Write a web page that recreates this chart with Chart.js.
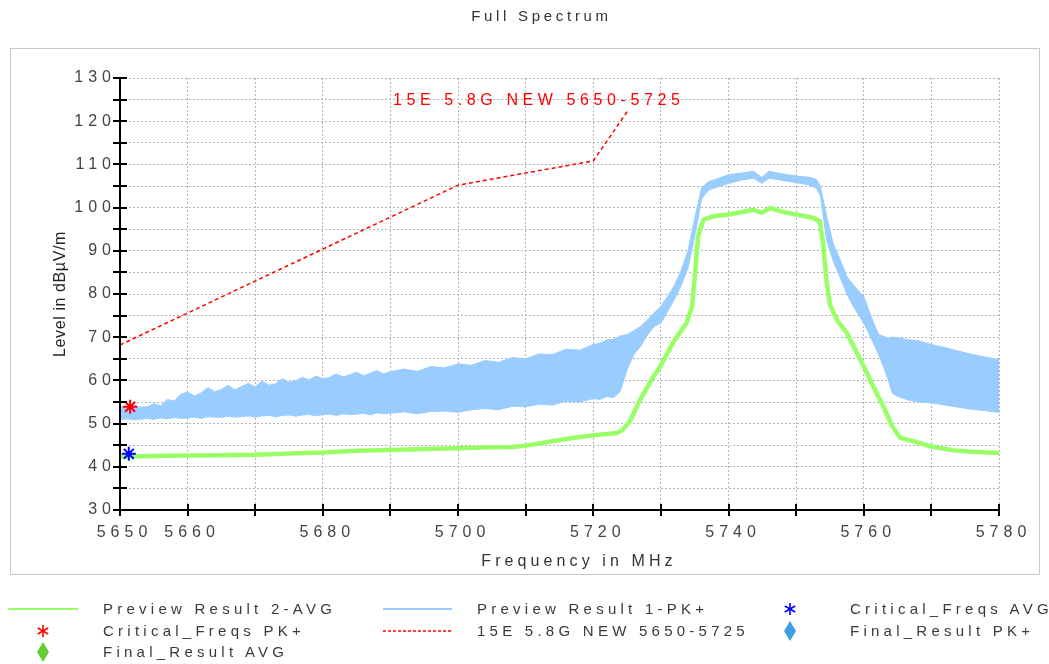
<!DOCTYPE html>
<html><head><meta charset="utf-8">
<script src="https://cdn.jsdelivr.net/npm/chart.js@4.4.1/dist/chart.umd.min.js"></script>
<style>
html,body{margin:0;padding:0;background:#fff;}
#wrap{position:relative;width:1049px;height:664px;overflow:hidden;background:#fff;}
#c{position:absolute;left:0;top:0;}
.lg{position:absolute;font-family:"Liberation Sans",Arial,sans-serif;font-size:15px;letter-spacing:4.25px;color:#3a3a3a;white-space:nowrap;line-height:18px;}
.sym{position:absolute;}
</style></head>
<body><div id="wrap"><canvas id="c" width="1049" height="664"></canvas></div>
<script>
// ---------- data ----------
const pkFreq = [5650,5651,5652,5653,5654,5655,5656,5657,5658,5659,5660,5661,5662,5663,5664,5665,5666,5667,5668,5669,5670,5671,5672,5673,5674,5675,5676,5677,5678,5679,5680,5681,5682,5683,5684,5685,5686,5687,5688,5689,5690,5692,5694,5696,5698,5700,5702,5704,5706,5708,5710,5712,5714,5716,5718,5720,5721,5722,5723,5724,5725,5726,5727,5728,5729,5730,5731,5732,5733,5734,5735,5735.5,5736,5737,5738,5740,5742,5743.7,5744.9,5746,5748,5750,5752,5753,5753.6,5754.5,5755.5,5756.5,5757.5,5758.5,5760,5761.4,5762.2,5762.9,5763.6,5764.2,5765,5766.5,5768,5770,5772,5774,5776,5778,5780];
const pkHigh = [54.0,53.7,54.2,53.8,53.9,54.6,54.1,55.6,55.2,56.8,57.3,56.4,57.1,58.3,57.4,57.9,58.9,57.8,58.6,59.3,58.5,59.8,58.9,59.2,60.4,59.6,59.9,60.7,60.1,61.0,60.4,60.7,61.5,60.8,61.3,61.9,61.1,61.6,62.3,61.5,62.0,62.6,62.1,63.2,62.9,63.8,63.5,64.6,64.2,65.3,65.0,66.1,66.0,67.2,67.0,68.3,68.6,69.4,69.5,70.3,70.6,71.5,72.5,74.0,75.6,77.1,79.5,82.0,85.5,90.0,97.5,101.0,104.5,106.0,106.5,107.6,108.0,108.4,107.0,108.4,107.8,107.3,107.0,106.5,104.9,98.0,91.5,88.0,84.0,82.0,79.4,73.5,70.6,70.2,69.8,70.0,69.9,69.4,69.2,68.3,67.6,66.8,66.0,65.4,64.8];
const pkLow  = [50.9,51.1,50.9,51.0,51.2,51.0,51.3,51.1,51.4,51.2,51.3,51.5,51.2,51.6,51.5,51.4,51.7,51.5,51.6,51.8,51.5,51.8,51.9,51.6,51.9,52.0,51.7,52.0,52.1,51.8,52.1,52.2,51.9,52.3,52.1,52.2,52.4,52.0,52.5,52.3,52.4,52.7,52.3,52.8,52.9,52.6,53.2,53.5,53.2,54.0,53.9,54.5,54.3,55.2,55.0,55.8,55.6,56.3,56.0,57.5,62.5,66.0,67.9,70.5,72.5,73.3,76.0,78.8,82.0,86.0,93.5,97.5,102.0,104.0,104.6,105.6,106.4,106.8,105.6,106.8,106.3,105.8,105.2,104.5,102.6,92.5,87.5,83.8,80.0,77.0,73.3,68.7,66.0,63.2,60.2,57.1,56.3,55.5,55.0,54.8,54.3,53.8,53.3,53.0,52.6];

const avgFreq  = [5650,5655,5660,5665,5670,5675,5680,5685,5690,5695,5700,5705,5708,5710,5712,5715,5718,5720,5722,5723.5,5724.3,5725.4,5726.9,5728.9,5729.9,5731.9,5733.8,5734.6,5735,5735.5,5736.3,5737.8,5740,5742,5743.7,5744.9,5746.2,5748,5750,5752.6,5753.5,5754,5754.5,5755,5756,5757.5,5760,5761.4,5762.9,5764.2,5765.4,5767.4,5770,5773.3,5776,5780];
const avgLevel = [42.3,42.5,42.6,42.7,42.8,43.1,43.3,43.7,43.9,44.1,44.3,44.5,44.6,44.9,45.4,46.2,46.9,47.3,47.6,47.8,48.5,50.5,55.5,60.9,63.2,69.0,73.3,77.1,84.0,93.3,97.2,98.0,98.4,99.0,99.5,98.8,99.9,99.0,98.4,97.6,96.8,91.5,83.0,77.5,74.1,71.0,63.2,58.6,54.0,49.4,46.7,45.9,44.7,43.8,43.5,43.2];

const limitFreq  = [5650,5700,5720,5725];
const limitLevel = [68.2,105.2,110.8,122.2];

const critPkFreq = [5651.5];  const critPkLevel = [53.9];
const critAvgFreq = [5651.3]; const critAvgLevel = [43.0];

const xTickValues  = [5650,5660,5670,5680,5690,5700,5710,5720,5730,5740,5750,5760,5770,5780];
const xLabelValues = [5650,5660,5680,5700,5720,5740,5760,5780];
const yTickValues  = [30,35,40,45,50,55,60,65,70,75,80,85,90,95,100,105,110,115,120,125,130];
const yLabelValues = [30,40,50,60,70,80,90,100,110,120,130];

const seriesNames = ['Preview Result 2-AVG','Preview Result 1-PK+','Critical_Freqs AVG','Critical_Freqs PK+','15E 5.8G NEW 5650-5725','Final_Result PK+','Final_Result AVG'];
const chartTitle = 'Full Spectrum';
const xTitle = 'Frequency in MHz';
const yTitle = 'Level in dBµV/m';
const limitLabel = '15E 5.8G NEW 5650-5725';

// ---------- helpers ----------
const pts = (xs, ys) => xs.map((x, i) => ({x, y: ys[i]}));
const FONT = "'Liberation Sans', Arial, sans-serif";
const BLUE = '#99ccff', GREEN = '#99ff66', RED = '#ff0000';

function patchDraw(obj, fnName, spacing, dx) {
  if (!obj || obj['__p_' + fnName]) return;
  const orig = obj[fnName];
  obj[fnName] = function (...args) {
    const c = this.ctx; const s = c.letterSpacing;
    c.save();
    c.letterSpacing = spacing;
    c.translate(dx, 0);
    orig.apply(this, args);
    c.restore();
    c.letterSpacing = s;
  };
  obj['__p_' + fnName] = true;
}

const framePlugin = {
  id: 'frame',
  beforeDraw(chart) {
    const c = chart.ctx;
    c.save();
    c.fillStyle = '#fff';
    c.fillRect(0, 0, chart.width, chart.height);
    c.strokeStyle = '#c8c8c8';
    c.lineWidth = 1;
    c.strokeRect(10.5, 48.5, 1029, 526);
    c.restore();
    c.letterSpacing = '5px';
  },
  afterLayout(chart) {
    patchDraw(chart.scales.y, 'drawTitle', '0.6px', 0);
    patchDraw(chart.scales.x, 'drawTitle', '4.1px', 19.5);
    patchDraw(chart.titleBlock, 'draw', '3.7px', 42);
  },
  afterDatasetsDraw(chart) {
    const c = chart.ctx;
    c.save();
    c.font = '16px ' + FONT;
    c.letterSpacing = '4.6px';
    c.fillStyle = RED;
    c.textBaseline = 'middle';
    c.textAlign = 'left';
    c.fillText(limitLabel, 393, 101);
    c.restore();
  },
  afterDraw(chart) {
    const c = chart.ctx, xs = chart.scales.x, ys = chart.scales.y;
    const L = chart.chartArea.left, B = chart.chartArea.bottom;
    c.save();
    c.strokeStyle = '#000';
    c.lineWidth = 2;
    c.beginPath();
    yTickValues.forEach(v => { const p = Math.round(ys.getPixelForValue(v)); c.moveTo(L - 7, p); c.lineTo(L + 7, p); });
    xTickValues.forEach(v => { const p = Math.round(xs.getPixelForValue(v)); c.moveTo(p, B - 6); c.lineTo(p, B + 6); });
    c.stroke();
    c.restore();
    c.letterSpacing = '0px';
  }
};

const ctx = document.getElementById('c');
new Chart(ctx, {
  type: 'line',
  data: {
    datasets: [
      {label: seriesNames[3], data: pts(critPkFreq, critPkLevel), showLine: false, pointStyle: 'star', pointRadius: 7, borderColor: RED, backgroundColor: RED, pointBorderWidth: 2, order: 0},
      {label: seriesNames[2], data: pts(critAvgFreq, critAvgLevel), showLine: false, pointStyle: 'star', pointRadius: 7, borderColor: '#0000ff', backgroundColor: '#0000ff', pointBorderWidth: 2, order: 0},
      {label: seriesNames[5], data: [], showLine: false, pointStyle: 'rectRot', pointRadius: 8, backgroundColor: '#3f9fe0', order: 0},
      {label: seriesNames[6], data: [], showLine: false, pointStyle: 'rectRot', pointRadius: 8, backgroundColor: '#66cc33', order: 0},
      {label: seriesNames[4], data: pts(limitFreq, limitLevel), borderColor: RED, borderWidth: 1.5, borderDash: [4, 3], pointRadius: 0, fill: false, tension: 0, order: 1},
      {label: seriesNames[0], data: pts(avgFreq, avgLevel), borderColor: GREEN, borderWidth: 4.5, pointRadius: 0, fill: false, tension: 0, order: 2},
      {label: seriesNames[1] + ' low', data: pts(pkFreq, pkLow), borderColor: BLUE, borderWidth: 1, pointRadius: 0, fill: false, tension: 0, order: 3},
      {label: seriesNames[1], data: pts(pkFreq, pkHigh), borderColor: BLUE, borderWidth: 1, pointRadius: 0, backgroundColor: BLUE, fill: '-1', tension: 0, order: 3}
    ]
  },
  options: {
    responsive: false,
    animation: false,
    events: [],
    layout: {padding: {left: 0, right: 50, top: 0, bottom: 88}},
    plugins: {
      legend: {display: false},
      tooltip: {enabled: false},
      title: {display: true, text: chartTitle, color: '#333', font: {family: FONT, size: 15, weight: 'normal'}, padding: {top: 8, bottom: 52}},
      filler: {propagate: false}
    },
    scales: {
      x: {
        type: 'linear', min: 5650, max: 5780,
        afterBuildTicks: s => { s.ticks = xTickValues.map(v => ({value: v})); },
        afterFit: s => { s.height = 66; },
        ticks: {autoSkip: false, maxRotation: 0, minRotation: 0, padding: 13, labelOffset: 4.5, color: '#444', font: {family: FONT, size: 16},
          callback: v => xLabelValues.includes(v) ? String(v) : ''},
        grid: {color: '#b4b4b4', lineWidth: 1, drawTicks: false},
        border: {display: true, color: '#000', width: 2, dash: [2, 2], z: 1},
        title: {display: true, text: xTitle, color: '#333', font: {family: FONT, size: 16}, padding: {top: 0, bottom: 5}}
      },
      y: {
        min: 30, max: 130,
        afterBuildTicks: s => { s.ticks = yTickValues.map(v => ({value: v})); },
        afterFit: s => { s.width = 120; },
        ticks: {autoSkip: false, padding: 4, color: '#444', font: {family: FONT, size: 16},
          callback: v => yLabelValues.includes(v) ? String(v) : ''},
        grid: {color: '#b4b4b4', lineWidth: 1, drawTicks: false},
        border: {display: true, color: '#000', width: 2, dash: [2, 2], z: 1},
        title: {display: true, text: yTitle, color: '#222', font: {family: FONT, size: 16}, padding: {top: 51, bottom: 0}}
      }
    }
  },
  plugins: [framePlugin]
});

// ---------- legend (HTML text) ----------
const wrap = document.getElementById('wrap');
const legendItems = [
  {name: seriesNames[0], tx: 103, cy: 609, sym: `<line x1="8" y1="609" x2="78" y2="609" stroke="${GREEN}" stroke-width="2"/>`},
  {name: seriesNames[1], tx: 477, cy: 609, sym: `<line x1="383" y1="609" x2="452" y2="609" stroke="${BLUE}" stroke-width="2"/>`},
  {name: seriesNames[2], tx: 850, cy: 609, star: [790, 609, '#0000ff']},
  {name: seriesNames[3], tx: 103, cy: 631, star: [43, 631, RED]},
  {name: seriesNames[4], tx: 477, cy: 631, sym: `<line x1="383" y1="631" x2="452" y2="631" stroke="${RED}" stroke-width="1.5" stroke-dasharray="3,2"/>`},
  {name: seriesNames[5], tx: 850, cy: 631, sym: `<polygon points="790,621 796,631 790,641 784,631" fill="#3f9fe0"/>`},
  {name: seriesNames[6], tx: 103, cy: 652, sym: `<polygon points="43,642 49,652 43,662 37,652" fill="#66cc33"/>`}
];
let svg = '<svg class="sym" width="1049" height="664" style="left:0;top:0" xmlns="http://www.w3.org/2000/svg">';
legendItems.forEach(it => {
  if (it.sym) svg += it.sym;
  if (it.star) {
    const [x, y, col] = it.star, r = 6;
    svg += `<g stroke="${col}" stroke-width="1.6"><line x1="${x}" y1="${y - r}" x2="${x}" y2="${y + r}"/><line x1="${x - r * 0.87}" y1="${y - r / 2}" x2="${x + r * 0.87}" y2="${y + r / 2}"/><line x1="${x - r * 0.87}" y1="${y + r / 2}" x2="${x + r * 0.87}" y2="${y - r / 2}"/></g>`;
  }
});
svg += '</svg>';
wrap.insertAdjacentHTML('beforeend', svg);
legendItems.forEach(it => {
  const d = document.createElement('div');
  d.className = 'lg';
  d.style.left = it.tx + 'px';
  d.style.top = (it.cy - 9) + 'px';
  d.textContent = it.name;
  wrap.appendChild(d);
});
</script>
</body></html>
